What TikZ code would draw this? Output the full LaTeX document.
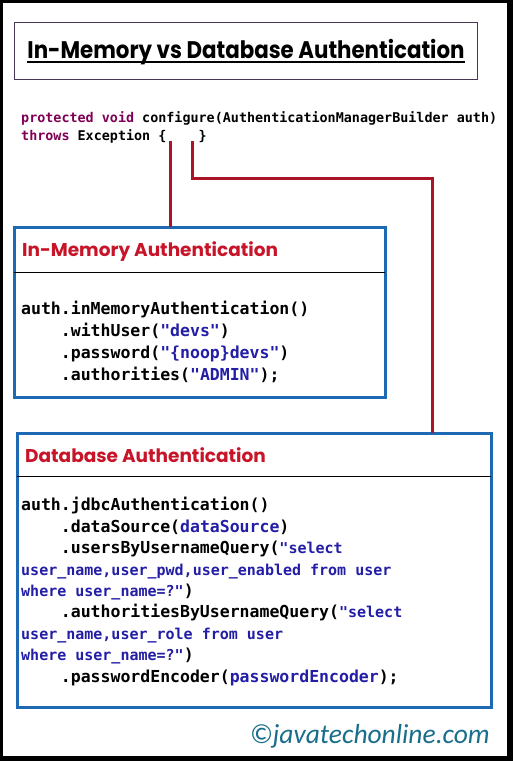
\documentclass[tikz,border=0pt]{standalone}
\usepackage{fontspec}
\usetikzlibrary{calc,positioning}
\newfontfamily\codefont{DejaVu Sans Mono}
\newfontfamily\headfont{Poppins}
\newfontfamily\signfont{Carlito}
\definecolor{keyred}{RGB}{127,0,85}
\definecolor{strblue}{RGB}{35,30,165}
\definecolor{boxblue}{RGB}{30,105,180}
\definecolor{headred}{RGB}{200,20,40}
\definecolor{linkred}{RGB}{170,20,40}
\definecolor{framegrey}{RGB}{70,55,85}
\definecolor{signteal}{RGB}{25,110,140}
\newcommand\ind{\phantom{xxxx}}
\newcommand\str[1]{\textcolor{strblue}{#1}}
\newcommand\sel[1]{{\fontsize{15}{21.4}\selectfont\color{strblue}#1}}

\begin{document}
\begin{tikzpicture}[x=1pt, y=-1pt,
	authbox/.style={draw=boxblue, line width=3pt, outer sep=0pt, inner sep=0pt, anchor=north west},
	boxhead/.style={anchor=base west, inner sep=0pt, text=headred, font=\headfont\bfseries\fontsize{18.5}{18.5}\selectfont},
	codeblock/.style={anchor=base west, inner sep=0pt, align=left},
	link/.style={draw=linkred, line width=3pt}]
		%%%%% FRAME %%%%%
		
		\useasboundingbox (0, 0) rectangle (513, 761);
		\fill[black] (0, 0) rectangle (513, 761);
		\fill[white] (2.5, 3) rectangle (507, 755.5);
		
		%%%%% TITLE %%%%%
		
		\node[draw=framegrey, line width=1.5pt, outer sep=0pt, minimum width=463pt, minimum height=57pt, anchor=north west] (titlebox) at (14.5, 22.5) {};
		\node[anchor=base, inner sep=0pt, font=\headfont\bfseries\fontsize{24}{24}\selectfont] (title) at (246, 58) {\scalebox{0.89}[1]{In-Memory vs Database Authentication}};
		\draw[line width=2pt] ([yshift=-3.5pt]title.base west) -- ([yshift=-3.5pt]title.base east);
		
		%%%%% SIGNATURE %%%%%
		
		% base sits on the last line
		\node[codeblock, font=\codefont\bfseries\fontsize{13.4}{18}\selectfont] (sig) at (21, 140)
			{\textcolor{keyred}{protected void} configure(AuthenticationManagerBuilder auth)\\
			\textcolor{keyred}{throws} Exception \{\ind\}};
		\coordinate (open) at (170, 141);
		\coordinate (close) at (192, 141);
		\coordinate (bend) at (432, 178);
		
		%%%%% IN-MEMORY %%%%%
		
		\node[authbox, minimum width=371pt, minimum height=170pt] (inmem) at (14, 227) {};
		\draw[line width=0.8pt] ([yshift=-45pt]inmem.north west) -- ([yshift=-45pt]inmem.north east);
		\node[boxhead] (inmemhead) at (22, 256) {In-Memory Authentication};
		\node[codeblock, font=\codefont\bfseries\fontsize{16.5}{22}\selectfont] (inmemcode) at (21, 380)
			{auth.inMemoryAuthentication()\\
			\ind.withUser(\str{"devs"})\\
			\ind.password(\str{"\{noop\}devs"})\\
			\ind.authorities(\str{"ADMIN"});};
		
		%%%%% DATABASE %%%%%
		
		\node[authbox, minimum width=474pt, minimum height=274pt] (dbauth) at (17, 433) {};
		\draw[line width=0.8pt] ([yshift=-43pt]dbauth.north west) -- ([yshift=-43pt]dbauth.north east);
		\node[boxhead] (dbhead) at (25, 462) {Database Authentication};
		\node[codeblock, font=\codefont\bfseries\fontsize{16.5}{21.4}\selectfont] (dbcode) at (21, 682)
			{auth.jdbcAuthentication()\\
			\ind.dataSource(\str{dataSource})\\
			\ind.usersByUsernameQuery(\sel{"select}\\
			\sel{user\_name,user\_pwd,user\_enabled from user}\\
			\sel{where user\_name=?"})\\
			\ind.authoritiesByUsernameQuery(\sel{"select}\\
			\sel{user\_name,user\_role from user}\\
			\sel{where user\_name=?"})\\
			\ind.passwordEncoder(\str{passwordEncoder});};
		
		%%%%% LINKS %%%%%
		
		\draw[link] (open) -- (open |- inmem.north);
		\draw[link] (close) |- (bend) -- (bend |- dbauth.north);
		
		\node[anchor=base east, inner sep=0pt, text=signteal, font=\signfont\itshape\fontsize{27.5}{27.5}\selectfont] (site) at (490, 743) {©javatechonline.com};
		
	\end{tikzpicture}
\end{document}
